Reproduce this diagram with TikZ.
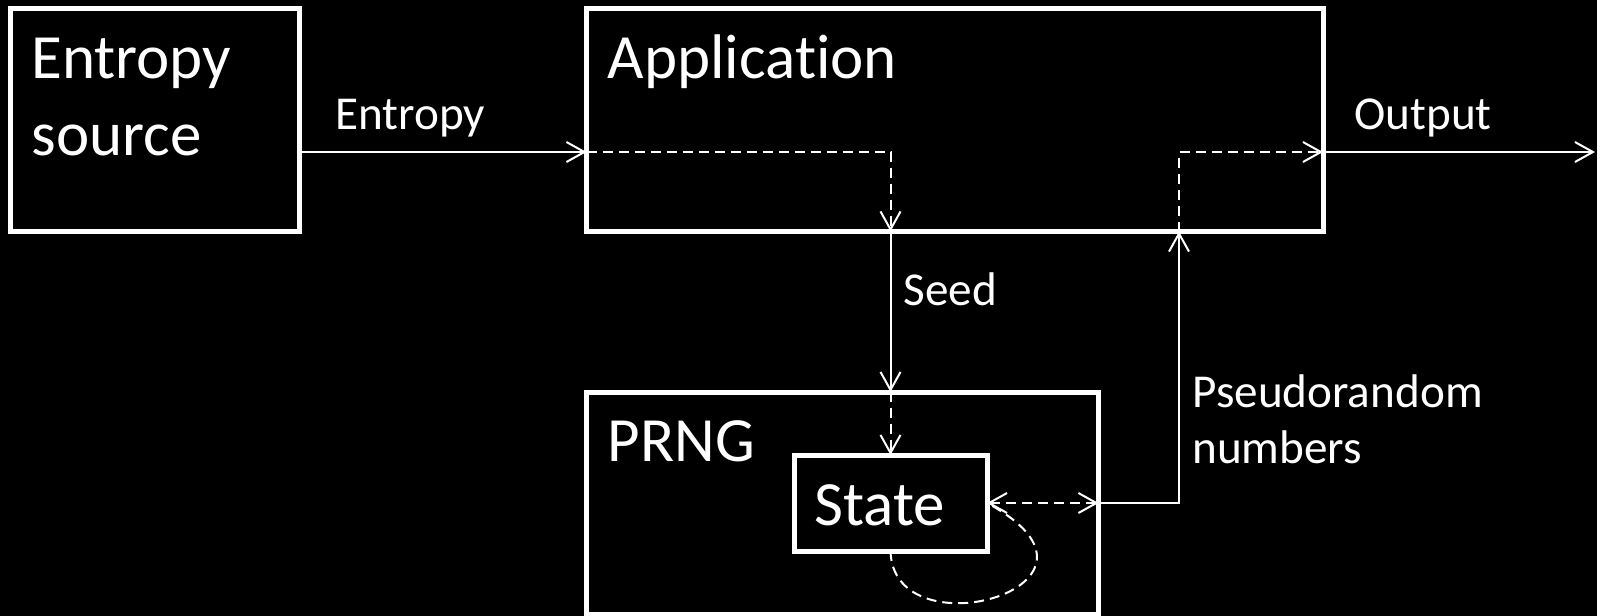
\documentclass[tikz,border=0pt]{standalone}
\usepackage{fontspec}
\setmainfont{Carlito}[Ligatures=NoCommon]
\usetikzlibrary{arrows.meta}
\begin{document}
\begin{tikzpicture}[x=0.5pt,y=-0.5pt,
  box/.style={draw=white, line width=2.5pt, inner sep=0pt, outer sep=0pt},
  bigtext/.style={text=white, font=\fontsize{31.5}{38.4}\selectfont, inner sep=0pt, anchor=base west},
  smalltext/.style={text=white, font=\fontsize{23.6}{28.3}\selectfont, inner sep=0pt, anchor=base west},
  conn/.style={draw=white, line width=1pt},
  dashconn/.style={dash pattern=on 5pt off 3pt},
  >={Straight Barb[length=9pt,width=10pt]}
]
% canvas
\fill[black] (0,0) rectangle (1597,616);
\useasboundingbox (0,0) rectangle (1597,616);

% blocks
\node[box, minimum width=144.25pt, minimum height=111.5pt] (esrc) at (154.75,120) {};
\node[box, minimum width=368.25pt, minimum height=111.5pt] (app) at (954.75,120) {};
\node[box, minimum width=256pt, minimum height=111pt] (prng) at (842.5,503) {};
\node[box, minimum width=96.5pt, minimum height=48pt] (state) at (890.5,503) {};

% block titles
\node[bigtext] (esrcA) at (31,78) {Entropy};
\node[bigtext] (esrcB) at (31,155) {source};
\node[bigtext] (appT) at (607.5,78) {Application};
\node[bigtext] (prngT) at (607.5,461) {PRNG};
\node[bigtext] (stateT) at (814,525) {State};

% connector labels
\node[smalltext] (lblEnt) at (335,129.5) {Entropy};
\node[smalltext] (lblSeed) at (903,305) {Seed};
\node[smalltext] (lblOut) at (1354,129.5) {Output};
\node[smalltext] (lblPrA) at (1192,407) {Pseudorandom};
\node[smalltext] (lblPrB) at (1192,463) {numbers};

% junction points
\coordinate (eOut) at (esrc.east |- 0,152);
\coordinate (eIn) at (app.west |- 0,152);
\coordinate (seedA) at (state.north |- app.south);
\coordinate (seedB) at (state.north |- prng.north);
\coordinate (prEdge) at (prng.east |- state.east);
\coordinate (pnA) at (1179,0 |- app.south);
\coordinate (appOut) at (app.east |- eIn);
\coordinate (outEnd) at (1595,152);

% flows
\draw[conn,->] (eOut) -- (eIn);
\draw[conn,dashconn,->] (eIn) -| (seedA);
\draw[conn,->] (seedA) -- (seedB);
\draw[conn,dashconn,->] (seedB) -- (state.north);
\draw[conn,dashconn,<->] (state.east) -- (prEdge);
\draw[conn,->] (prEdge) -| (pnA);
\draw[conn,dashconn,->] (pnA) |- (appOut);
\draw[conn,->] (appOut) -- (outEnd);
\draw[conn,dashconn] (state.south) .. controls (893,655) and (1140,585) .. (state.east);
\end{tikzpicture}
\end{document}
